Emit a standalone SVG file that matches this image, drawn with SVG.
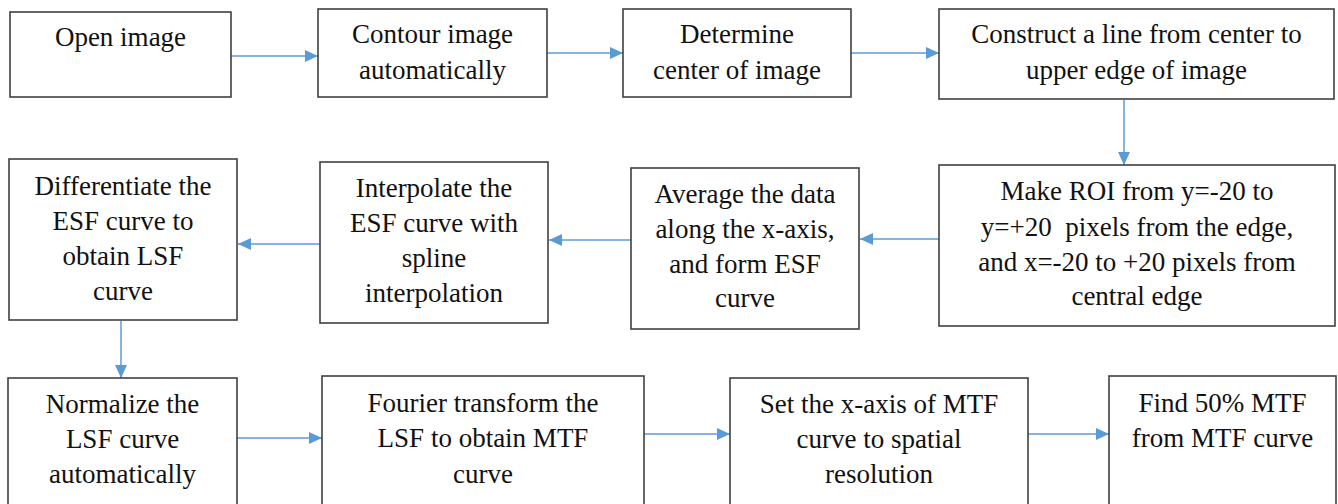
<svg xmlns="http://www.w3.org/2000/svg" width="1338" height="504" viewBox="0 0 1338 504">
<style>
.box{fill:#fff;stroke:#404040;stroke-width:1.6}
.t{font-family:'Liberation Serif','Times New Roman','DejaVu Serif',serif;font-size:27px;fill:#111;text-anchor:middle}
.c{stroke:#5B9BD5;stroke-width:1.5;fill:none;marker-end:url(#ah)}
</style>
<defs>
<marker id="ah" markerUnits="userSpaceOnUse" markerWidth="14" markerHeight="12" refX="13" refY="6" orient="auto">
<path d="M0,0 L13,6 L0,12 z" fill="#5B9BD5"/>
</marker>
</defs>
<rect width="1338" height="504" fill="#fff"/>
<g id="connectors">
<path class="c" d="M231,56 H318"/>
<path class="c" d="M547,53 H623"/>
<path class="c" d="M851,53 H939"/>
<path class="c" d="M1124,100 V165"/>
<path class="c" d="M939,239 H860"/>
<path class="c" d="M631,240 H549"/>
<path class="c" d="M320,244 H238"/>
<path class="c" d="M121,321 V378"/>
<path class="c" d="M237,438 H322"/>
<path class="c" d="M644,434 H730"/>
<path class="c" d="M1028,434 H1109"/>
</g>
<g id="n1"><rect class="box" x="10" y="12" width="221" height="85"/>
<text class="t" x="120.5" y="46">Open image</text></g>
<g id="n2"><rect class="box" x="318" y="9" width="229" height="88"/>
<text class="t" x="432.5" y="43">Contour image</text><text class="t" x="432.5" y="79">automatically</text></g>
<g id="n3"><rect class="box" x="623" y="9" width="228" height="88"/>
<text class="t" x="737" y="43">Determine</text><text class="t" x="737" y="79">center of image</text></g>
<g id="n4"><rect class="box" x="939" y="9" width="395" height="90"/>
<text class="t" x="1136.5" y="43">Construct a line from center to</text><text class="t" x="1136.5" y="79">upper edge of image</text></g>
<g id="n5"><rect class="box" x="9" y="159" width="228" height="161"/>
<text class="t" x="123" y="195">Differentiate the</text><text class="t" x="123" y="230">ESF curve to</text><text class="t" x="123" y="265">obtain LSF</text><text class="t" x="123" y="300">curve</text></g>
<g id="n6"><rect class="box" x="320" y="162" width="228" height="161"/>
<text class="t" x="434" y="197">Interpolate the</text><text class="t" x="434" y="232">ESF curve with</text><text class="t" x="434" y="267">spline</text><text class="t" x="434" y="302">interpolation</text></g>
<g id="n7"><rect class="box" x="631" y="168" width="228" height="161"/>
<text class="t" x="745" y="203">Average the data</text><text class="t" x="745" y="238">along the x-axis,</text><text class="t" x="745" y="273">and form ESF</text><text class="t" x="745" y="307">curve</text></g>
<g id="n8"><rect class="box" x="939" y="165" width="396" height="161"/>
<text class="t" x="1137" y="200">Make ROI from y=-20 to</text><text class="t" x="1137" y="236" xml:space="preserve">y=+20  pixels from the edge,</text><text class="t" x="1137" y="271">and x=-20 to +20 pixels from</text><text class="t" x="1137" y="305">central edge</text></g>
<g id="n9"><rect class="box" x="8" y="378" width="229" height="140"/>
<text class="t" x="122.5" y="413">Normalize the</text><text class="t" x="122.5" y="448">LSF curve</text><text class="t" x="122.5" y="483">automatically</text></g>
<g id="n10"><rect class="box" x="322" y="376" width="322" height="140"/>
<text class="t" x="483" y="412">Fourier transform the</text><text class="t" x="483" y="447">LSF to obtain MTF</text><text class="t" x="483" y="483">curve</text></g>
<g id="n11"><rect class="box" x="730" y="378" width="298" height="140"/>
<text class="t" x="879" y="413">Set the x-axis of MTF</text><text class="t" x="879" y="448">curve to spatial</text><text class="t" x="879" y="483">resolution</text></g>
<g id="n12"><rect class="box" x="1109" y="376" width="227" height="140"/>
<text class="t" x="1222.5" y="412">Find 50% MTF</text><text class="t" x="1222.5" y="447">from MTF curve</text></g>
</svg>
